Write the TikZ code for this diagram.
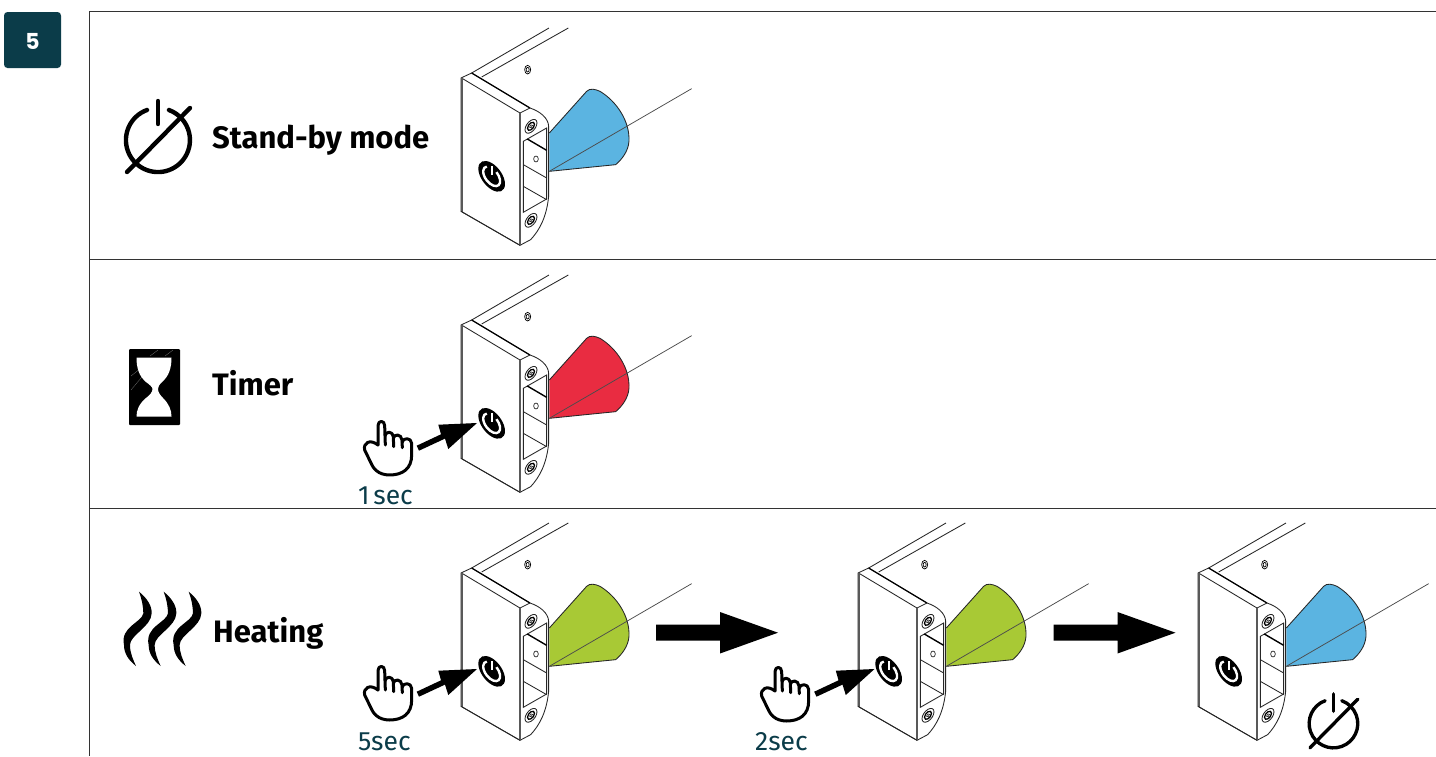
\documentclass[tikz,border=0pt]{standalone}
\usepackage{fontspec}
\setmainfont{Fira Sans}
\newfontfamily\badgefont{Poppins}
\definecolor{teal5}{HTML}{0B3C49}
\definecolor{coneblue}{HTML}{5BB4E1}
\definecolor{conered}{HTML}{E92C41}
\definecolor{conegreen}{HTML}{A8C935}
\tikzset{
  devline/.style={line width=0.85pt,draw=black!85},
  title/.style={font=\fontsize{31}{31}\selectfont\bfseries,anchor=base west,inner sep=0pt},
  timing/.style={font=\fontsize{26.5}{26.5}\selectfont,text=teal5,anchor=base west,inner sep=0pt},
  frameline/.style={line width=1pt,draw=black!80},
}
% Device: origin = top-left corner of the front face, drawn in 3x coordinates
\newcommand{\deviceat}[3]{%
\begin{scope}[shift={(#1-21,#2-58.33)},x=0.3333pt,y=-0.3333pt]
  % cone
  \fill[#3] (328,340) -- (440,215) .. controls (450,205) and (465,208) .. (480,215) .. controls (530,245) and (570,305) .. (567,365) .. controls (565,395) and (545,420) .. (527,435) -- (328,455) -- cycle;
  \draw[devline] (328,340) -- (440,215) .. controls (450,205) and (465,208) .. (480,215) .. controls (530,245) and (570,305) .. (567,365) .. controls (565,395) and (545,420) .. (527,435) -- (328,455);
  \draw[line width=0.75pt,draw=black!70] (328,455) -- (755,207);
  % body
  \draw[devline] (95,160) -- (327,25);
  \draw[devline] (125,172) -- (385,25);
  \draw[devline,fill=white] (63,175) -- (95,160) -- (270,265) .. controls (300,275) and (325,295) .. (326,320) -- (326,530) .. controls (320,590) and (300,630) .. (272,660) -- (240,677) -- (63,575) -- cycle;
  \draw[line width=1.2pt] (95,160) -- (270,265);
  \draw[devline] (68,177) -- (240,280) -- (270,265);
  \draw[line width=1.6pt,draw=black!65] (240,280) -- (240,677);
  \draw[line width=1.7pt,draw=black!65] (65,176) -- (65,576);
  \draw[devline] (63,575) -- (240,677);
  % window
  \draw[devline] (250,365) -- (320,325) -- (320,538) -- (250,578) -- cycle;
  \draw[line width=1.4pt] (262,358) -- (320,392);
  \draw[devline] (250,435) -- (320,475);
  \draw[devline] (250,500) -- (320,540);
  \draw[line width=0.6pt] (288,418) ellipse (7 and 9);
  % screws
  \foreach \sx/\sy in {273/320,273/602}{
    \begin{scope}[shift={(\sx,\sy)},x={(0.3333pt,0.1925pt)},y={(0pt,-0.3333pt)}]
    \draw[devline] (0,0) circle (18);
    \draw[line width=1.3pt] (0,0) circle (10.5);
    \draw[line width=0.5pt] (0,0) circle (4.5);
    \end{scope}
  }
  \draw[line width=0.7pt] (263,150) ellipse (9 and 13);
  \draw[line width=0.7pt] (263,150) ellipse (4.5 and 7);
  % button
  \begin{scope}[shift={(155,470)},x={(0.3333pt,-0.1925pt)},y={(0pt,-0.3333pt)}]
    \fill[black] (0,0) circle (40);
    \draw[white,line width=2.4pt] (14.4,-20.9) arc[start angle=304.6,end angle=595.4,radius=25.4];
    \draw[black,line width=3.6pt] (0,-34) -- (0,-3);
    \draw[white,line width=1.8pt] (0,-30) -- (0,-4);
  \end{scope}
\end{scope}}
\newcommand{\handat}[2]{%
\begin{scope}[shift={(#1-13.33,#2-15)},x=0.3333pt,y=-0.3333pt,line width=3pt,line cap=round,line join=round]
  \draw (85,120) -- (85,62) .. controls (85,45) and (105,45) .. (105,62) -- (107,120);
  \draw (106,92) .. controls (108,78) and (130,78) .. (131,95) -- (132,125);
  \draw (131,100) .. controls (133,86) and (155,86) .. (157,105) -- (158,128);
  \draw (157,112) .. controls (160,97) and (185,97) .. (186,115) -- (186,150) .. controls (186,190) and (160,210) .. (120,210) .. controls (85,210) and (70,190) .. (62,170) -- (45,135) .. controls (40,115) and (60,100) .. (85,120);
\end{scope}}
% pointing arrow: offset from the first heating one
\newcommand{\pushat}[2]{%
\fill[black,shift={(#1,#2)}] (416.7,691.7) -- (441,680.3) -- (438.3,670.7) -- (477,669) -- (448.3,695) -- (445,684.6) -- (419,696.7) -- cycle;}
\newcommand{\bigarrow}[1]{%
\fill[black,shift={(#1,0)}] (656,624.5) -- (720,624.5) -- (720,612) -- (778,632.7) -- (720,653.5) -- (720,640.5) -- (656,640.5) -- cycle;}
\newcommand{\poweroff}[3]{%
\begin{scope}[shift={(#1,#2)},x=#3pt,y=-#3pt,line width=#3*4.4pt,line cap=round]
  \draw (-11,-30) arc[start angle=250,end angle=-70,radius=32];
  \draw (0,-39) -- (0,-16);
  \draw (-31,32) -- (32,-32);
\end{scope}}
\newcommand{\wave}[1]{%
\fill[black,shift={(#1,0)}] (87,35) .. controls (112,55) and (126,78) .. (125,100) .. controls (124,140) and (60,165) .. (60,195) .. controls (60,220) and (70,240) .. (78,258) .. controls (55,240) and (42,220) .. (42,195) .. controls (30,140) and (95,128) .. (100,100) .. controls (100,80) and (95,55) .. (87,35) -- cycle;}
\begin{document}
\begin{tikzpicture}[x=1pt,y=-1pt]
\useasboundingbox (0,0) rectangle (1436,756);
\fill[white] (0,0) rectangle (1436,756);
% badge
\fill[teal5,rounded corners=3.5pt] (4,12) rectangle (61,68);
\node[font=\fontsize{22}{22}\badgefont\bfseries,text=white,inner sep=0pt] (badge) at (32.5,41) {5};
% frame
\draw[frameline] (1436,11) -- (89,11) -- (89,756);
\draw[frameline] (89,259) -- (1436,259);
\draw[frameline] (89,508.5) -- (1436,508.5);
% devices
\deviceat{461}{78}{coneblue}
\deviceat{461}{325}{conered}
\deviceat{461}{573}{conegreen}
\deviceat{858}{573}{conegreen}
\deviceat{1198}{573}{coneblue}
% standby
\poweroff{158}{140}{1}
\node[title] (standby) at (212,148) {Stand-by mode};
% timer
\fill[black,rounded corners=1pt] (129,349) rectangle (180,425);
\draw[black!55,line width=0.3pt] (131,390) -- (146,372) (131,376) -- (141,368) (150,356) -- (158,350) (165,356) -- (173,350);
\fill[white] (136.5,357.5) -- (171.5,357.5) .. controls (171.5,368) and (169,376) .. (162,382) .. controls (159,385) and (158,387) .. (158,389) .. controls (158,392) and (160,395) .. (163,398) .. controls (169,404) and (171.5,410) .. (171.5,416.5) -- (136.5,416.5) .. controls (136.5,410) and (139,404) .. (146,398) .. controls (150,395) and (152.5,392) .. (152.5,389) .. controls (152.5,387) and (150,385) .. (146,382) .. controls (139,376) and (136.5,368) .. (136.5,357.5) -- cycle;
\node[title] (timer) at (212,395) {Timer};
\handat{363}{420}
\pushat{0}{-246}
\node[timing] (onesec) at (358,504) {1\hspace{0.14em}sec};
% heating
\begin{scope}[shift={(110,580)},x=0.3333pt,y=-0.3333pt]
  \wave{0}\wave{74}\wave{149}
\end{scope}
\node[title] (heating) at (213,642) {Heating};
\handat{363}{665}
\pushat{0}{0}
\node[timing] (fivesec) at (358,750) {5sec};
\bigarrow{0}
\handat{760}{666}
\pushat{397.5}{0}
\node[timing] (twosec) at (755,750) {2sec};
\bigarrow{397.5}
\poweroff{1333.5}{723.5}{0.76}
\end{tikzpicture}
\end{document}
